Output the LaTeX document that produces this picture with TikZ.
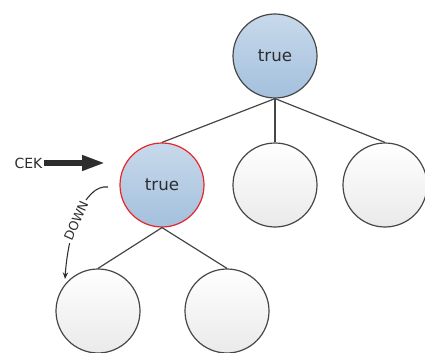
\documentclass[tikz,border=0pt]{standalone}
\usepackage{fontspec}
\setmainfont{DejaVu Sans}
\usetikzlibrary{arrows.meta}
\definecolor{nodeedge}{RGB}{70,70,70}
\definecolor{bluetop}{RGB}{200,217,235}
\definecolor{bluebottom}{RGB}{163,192,221}
\definecolor{greybottom}{RGB}{234,234,234}
\definecolor{markred}{RGB}{232,36,40}
\definecolor{textgrey}{RGB}{45,45,45}
\begin{document}
\begin{tikzpicture}[
    x=0.75pt, y=0.75pt,
    treenode/.style={
        circle,
        minimum size=63pt,
        draw=nodeedge,
        line width=0.9pt,
        top color=white,
        bottom color=greybottom,
        font=\fontsize{12.5}{14}\selectfont,
        text=textgrey
    },
    visited/.style={
        treenode,
        top color=bluetop,
        bottom color=bluebottom
    },
    current/.style={
        visited,
        draw=markred
    },
    branch/.style={
        draw=nodeedge,
        line width=0.9pt
    },
    pointer/.style={
        draw=textgrey,
        line width=3.8pt,
        -{Triangle[length=17pt,width=11pt]}
    },
    move/.style={
        draw=textgrey,
        line width=0.8pt,
        -{Stealth[length=5pt,width=4pt]}
    }
]

\useasboundingbox (0,0) rectangle (425,-353);

\node[visited] (root) at (275,-56) {true};
\node[current] (c1) at (162,-185) {true};
\node[treenode] (c2) at (275,-185) {};
\node[treenode] (c3) at (385,-185) {};
\node[treenode] (d1) at (98,-311) {};
\node[treenode] (d2) at (227,-311) {};

\draw[branch] (root.south) -- (c1.north);
\draw[branch] (root.south) -- (c2.north);
\draw[branch] (root.south) -- (c3.north);
\draw[branch] (c1.south) -- (d1.north);
\draw[branch] (c1.south) -- (d2.north);

\node[font=\fontsize{10.5}{12}\selectfont, text=textgrey, inner sep=1pt] (cek) at (28.5,-163) {CEK};
\draw[pointer] (cek.east) -- ([xshift=-11pt]cek.east -| c1.west);

\coordinate (downstart) at (108,-187);
\coordinate (downend) at (65,-279);
\draw[move] (downstart) .. controls (84,-184) and (68,-232) .. node[pos=0.56, rotate=66, fill=white, inner sep=1.5pt, font=\fontsize{9.5}{11}\selectfont, text=textgrey] {DOWN} (downend);

\end{tikzpicture}
\end{document}
